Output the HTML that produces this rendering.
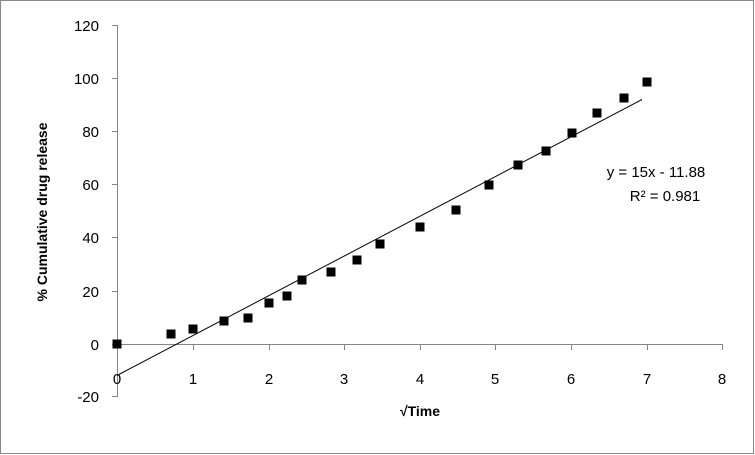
<!DOCTYPE html><html><head><style>body{margin:0;background:#fff}svg{display:block}text{font-family:"Liberation Sans",sans-serif;font-size:15px;fill:#000}</style></head><body>
<svg width="755" height="455" viewBox="0 0 755 455">
<rect x="0.5" y="0.5" width="753" height="453" fill="#fff" stroke="#888"/>
<g stroke="#868686" stroke-width="1">
<line x1="117.5" y1="25" x2="117.5" y2="397"/>
<line x1="117" y1="344.5" x2="722" y2="344.5"/>
<line x1="112" y1="25.5" x2="117" y2="25.5"/><line x1="112" y1="78.5" x2="117" y2="78.5"/><line x1="112" y1="131.5" x2="117" y2="131.5"/><line x1="112" y1="184.5" x2="117" y2="184.5"/><line x1="112" y1="237.5" x2="117" y2="237.5"/><line x1="112" y1="291.5" x2="117" y2="291.5"/><line x1="112" y1="344.5" x2="117" y2="344.5"/><line x1="112" y1="396.5" x2="117" y2="396.5"/>
<line x1="193.5" y1="344" x2="193.5" y2="350"/><line x1="269.5" y1="344" x2="269.5" y2="350"/><line x1="344.5" y1="344" x2="344.5" y2="350"/><line x1="420.5" y1="344" x2="420.5" y2="350"/><line x1="495.5" y1="344" x2="495.5" y2="350"/><line x1="571.5" y1="344" x2="571.5" y2="350"/><line x1="647.5" y1="344" x2="647.5" y2="350"/><line x1="722.5" y1="344" x2="722.5" y2="350"/>
</g>
<g text-anchor="end"><text x="99" y="31">120</text><text x="99" y="84">100</text><text x="99" y="137">80</text><text x="99" y="190">60</text><text x="99" y="243">40</text><text x="99" y="297">20</text><text x="99" y="350">0</text><text x="99" y="402">-20</text></g>
<g text-anchor="middle"><text x="117" y="384">0</text><text x="193" y="384">1</text><text x="269" y="384">2</text><text x="344" y="384">3</text><text x="420" y="384">4</text><text x="495" y="384">5</text><text x="571" y="384">6</text><text x="647" y="384">7</text><text x="722" y="384">8</text></g>
<text x="420" y="416" text-anchor="middle" font-weight="bold" style="font-size:14px">√Time</text>
<text transform="translate(47,212) rotate(-90)" text-anchor="middle" font-weight="bold" style="font-size:14px">% Cumulative drug release</text>
<line x1="117" y1="375.5" x2="642" y2="99.5" stroke="#000" stroke-width="1"/>
<g fill="#000">
<rect x="112.5" y="339.5" width="9" height="9"/><rect x="166.5" y="329.5" width="9" height="9"/><rect x="188.5" y="324.5" width="9" height="9"/><rect x="219.5" y="316.5" width="9" height="9"/><rect x="243.5" y="313.5" width="9" height="9"/><rect x="264.5" y="298.5" width="9" height="9"/><rect x="282.5" y="291.5" width="9" height="9"/><rect x="297.5" y="275.5" width="9" height="9"/><rect x="326.5" y="267.5" width="9" height="9"/><rect x="352.5" y="255.5" width="9" height="9"/><rect x="375.5" y="239.5" width="9" height="9"/><rect x="415.5" y="222.5" width="9" height="9"/><rect x="451.5" y="205.5" width="9" height="9"/><rect x="484.5" y="180.5" width="9" height="9"/><rect x="513.5" y="160.5" width="9" height="9"/><rect x="541.5" y="146.5" width="9" height="9"/><rect x="567.5" y="128.5" width="9" height="9"/><rect x="592.5" y="108.5" width="9" height="9"/><rect x="619.5" y="93.5" width="9" height="9"/><rect x="642.5" y="77.5" width="9" height="9"/>
</g>
<text x="656" y="177" text-anchor="middle">y = 15x - 11.88</text>
<text x="665" y="201" text-anchor="middle">R² = 0.981</text>
</svg></body></html>
